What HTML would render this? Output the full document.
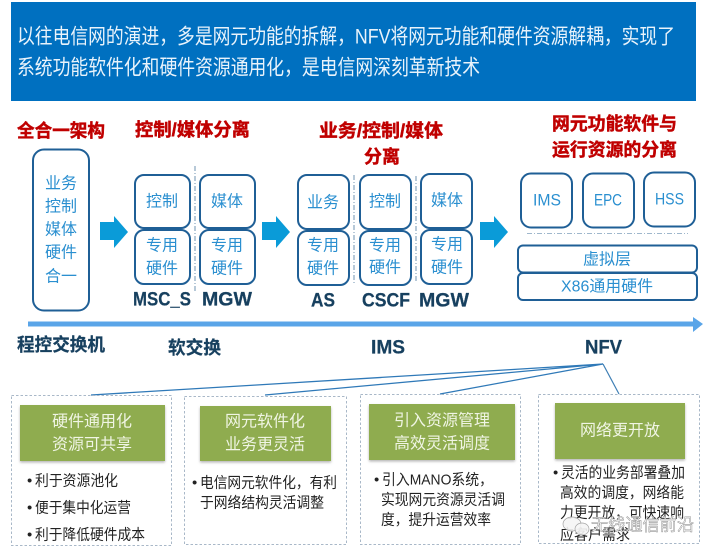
<!DOCTYPE html>
<html><head><meta charset="utf-8">
<style>
html,body{margin:0;padding:0;background:#fff;width:717px;height:555px;overflow:hidden}
svg{display:block;filter:blur(.35px)}
text{font-family:"Liberation Sans","Noto Sans CJK SC",sans-serif;dominant-baseline:central}
.b{fill:#fff;stroke:#1f5f96;stroke-width:2}
.t{fill:#2a8fd0;font-size:16px;text-anchor:middle}
.r{fill:#c00000;font-size:18px;font-weight:700;stroke:#c00000;stroke-width:.45}
.n{fill:#17405f;font-size:19px;font-weight:700;stroke:#17405f;stroke-width:.25}
.d{fill:none;stroke:#a9b8c8;stroke-width:1;stroke-dasharray:2.5 2}
.g{fill:#8fac4f;filter:url(#s)}
.w{fill:#f0f5e4;font-size:16px;text-anchor:middle}
.k{fill:#222;font-size:15px}
.a{fill:#0a9bd8}
.v{stroke:#9fb7cc;stroke-width:1.5;stroke-dasharray:5 2 1 2;fill:none}
.l{stroke:#2f79b8;stroke-width:1.3;fill:none}
</style></head><body>
<svg width="717" height="555" viewBox="0 0 717 555" xmlns="http://www.w3.org/2000/svg">
<defs><filter id="s" x="-5%" y="-5%" width="110%" height="115%"><feDropShadow dx="0" dy="1.5" stdDeviation="1.2" flood-color="#777" flood-opacity=".55"/></filter></defs>
<rect width="717" height="555" fill="#fff"/>
<rect x="11" y="2" width="685" height="99" fill="#0070c0"/>
<text x="17" y="37" fill="#e9f3fb" font-size="21" textLength="658" lengthAdjust="spacingAndGlyphs">以往电信网的演进，多是网元功能的拆解，NFV将网元功能和硬件资源解耦，实现了</text>
<text x="17" y="68" fill="#e9f3fb" font-size="21" textLength="463" lengthAdjust="spacingAndGlyphs">系统功能软件化和硬件资源通用化，是电信网深刻革新技术</text>

<text class="r" x="17" y="131" textLength="88" lengthAdjust="spacingAndGlyphs">全合一架构</text>
<text class="r" x="135" y="130" textLength="115" lengthAdjust="spacingAndGlyphs">控制/媒体分离</text>
<text class="r" x="319" y="131" textLength="124" lengthAdjust="spacingAndGlyphs">业务/控制/媒体</text>
<text class="r" x="364" y="157" textLength="36" lengthAdjust="spacingAndGlyphs">分离</text>
<text class="r" x="552" y="124" textLength="125" lengthAdjust="spacingAndGlyphs">网元功能软件与</text>
<text class="r" x="552" y="150" textLength="125" lengthAdjust="spacingAndGlyphs">运行资源的分离</text>

<rect class="b" x="33" y="149.500" width="56" height="161" rx="11"/>
<text class="t" x="61" y="184">业务</text><text class="t" x="61" y="207">控制</text><text class="t" x="61" y="230">媒体</text><text class="t" x="61" y="253">硬件</text><text class="t" x="61" y="277">合一</text>

<rect class="b" x="135" y="175" width="55" height="53" rx="9"/><text class="t" x="162" y="202">控制</text>
<rect class="b" x="135" y="230" width="55" height="54" rx="9"/><text class="t" x="162" y="246">专用</text><text class="t" x="162" y="269">硬件</text>
<rect class="b" x="200" y="175" width="55" height="53" rx="9"/><text class="t" x="227" y="202">媒体</text>
<rect class="b" x="200" y="230" width="55" height="54" rx="9"/><text class="t" x="227" y="246">专用</text><text class="t" x="227" y="269">硬件</text>
<line x1="195" y1="166" x2="195" y2="293" class="v"/>

<rect class="b" x="298" y="175" width="51" height="54" rx="9"/><text class="t" x="323" y="203">业务</text>
<rect class="b" x="298" y="231" width="51" height="54" rx="9"/><text class="t" x="323" y="246">专用</text><text class="t" x="323" y="269">硬件</text>
<line x1="354" y1="175" x2="354" y2="283" class="v"/>
<rect class="b" x="360" y="175" width="51" height="54" rx="9"/><text class="t" x="385" y="202">控制</text>
<rect class="b" x="360" y="231" width="51" height="54" rx="9"/><text class="t" x="385" y="246">专用</text><text class="t" x="385" y="268">硬件</text>
<line x1="416" y1="176" x2="416" y2="282" class="v"/>
<rect class="b" x="421" y="174" width="51" height="54" rx="9"/><text class="t" x="447" y="201">媒体</text>
<rect class="b" x="421" y="230" width="51" height="54" rx="9"/><text class="t" x="447" y="245">专用</text><text class="t" x="447" y="268">硬件</text>

<rect class="b" x="521" y="173.500" width="51" height="54" rx="10"/><text x="533" y="200" fill="#2a8fd0" font-size="17" textLength="28" lengthAdjust="spacingAndGlyphs">IMS</text>
<rect class="b" x="583" y="173.500" width="51" height="54" rx="10"/><text x="594" y="200" fill="#2a8fd0" font-size="17" textLength="28" lengthAdjust="spacingAndGlyphs">EPC</text>
<rect class="b" x="644" y="172.500" width="51" height="54" rx="10"/><text x="655" y="199" fill="#2a8fd0" font-size="17" textLength="29" lengthAdjust="spacingAndGlyphs">HSS</text>
<line x1="527" y1="233.500" x2="688" y2="233.500" class="v" style="stroke-width:1"/>
<rect class="b" x="518" y="245.500" width="179" height="27" rx="5"/><text class="t" x="607" y="260">虚拟层</text>
<rect class="b" x="518" y="273" width="179" height="27" rx="5"/><text x="561" y="287" fill="#2a8fd0" font-size="16" textLength="92" lengthAdjust="spacingAndGlyphs">X86通用硬件</text>

<polygon class="a" points="100,222 114,222 114,216 128,232 114,248 114,240 100,240"/>
<polygon class="a" points="262,222 276,222 276,216 290,232 276,248 276,240 262,240"/>
<polygon class="a" points="480,222 494,222 494,216 508,232 494,248 494,240 480,240"/>

<text class="n" x="133" y="300" textLength="58" lengthAdjust="spacingAndGlyphs">MSC_S</text>
<text class="n" x="202" y="300" textLength="50" lengthAdjust="spacingAndGlyphs">MGW</text>
<text class="n" x="311" y="301" textLength="24" lengthAdjust="spacingAndGlyphs">AS</text>
<text class="n" x="362" y="301" textLength="48" lengthAdjust="spacingAndGlyphs">CSCF</text>
<text class="n" x="419" y="301" textLength="50" lengthAdjust="spacingAndGlyphs">MGW</text>

<polygon fill="#5aa5e8" points="28,321.500 693,321.500 693,317 703,324 693,332 693,326.500 28,326.500"/>

<text class="n" x="17" y="345" textLength="88" lengthAdjust="spacingAndGlyphs" style="font-size:18px">程控交换机</text>
<text class="n" x="168" y="348" textLength="53" lengthAdjust="spacingAndGlyphs" style="font-size:18px">软交换</text>
<text class="n" x="371" y="348" textLength="34" lengthAdjust="spacingAndGlyphs">IMS</text>
<text class="n" x="585" y="348" textLength="37" lengthAdjust="spacingAndGlyphs">NFV</text>

<path class="l" d="M91,395 L603,364 M265,395 L603,364 M440,394 L603,364"/>
<path d="M603,364 L619,394" stroke="#3f7fb5" stroke-width="1.2" fill="none"/>

<rect class="d" x="11.500" y="395.500" width="160" height="150"/>
<rect class="d" x="184.500" y="396.500" width="162" height="148"/>
<rect class="d" x="360.500" y="394.500" width="160" height="150"/>
<rect class="d" x="538.500" y="394.500" width="161" height="149"/>

<rect class="g" x="20" y="405" width="145" height="56"/>
<rect class="g" x="200" y="406" width="131" height="55"/>
<rect class="g" x="369" y="404" width="146" height="56"/>
<rect class="g" x="555" y="403" width="130" height="56"/>

<text class="w" x="92" y="422">硬件通用化</text><text class="w" x="92" y="445">资源可共享</text>
<text class="w" x="265" y="422">网元软件化</text><text class="w" x="265" y="445">业务更灵活</text>
<text class="w" x="442" y="421">引入资源管理</text><text class="w" x="442" y="444">高效灵活调度</text>
<text class="w" x="620" y="431">网络更开放</text>

<text class="k" x="27" y="481">•</text><text class="k" x="35" y="481" textLength="83" lengthAdjust="spacingAndGlyphs">利于资源池化</text>
<text class="k" x="27" y="508">•</text><text class="k" x="35" y="508" textLength="96" lengthAdjust="spacingAndGlyphs">便于集中化运营</text>
<text class="k" x="27" y="535">•</text><text class="k" x="35" y="535" textLength="110" lengthAdjust="spacingAndGlyphs">利于降低硬件成本</text>

<text class="k" x="192" y="483">•</text><text class="k" x="200" y="483" textLength="137" lengthAdjust="spacingAndGlyphs">电信网元软件化，有利</text>
<text class="k" x="200" y="503" textLength="124" lengthAdjust="spacingAndGlyphs">于网络结构灵活调整</text>

<text class="k" x="374" y="480">•</text><text class="k" x="382" y="480" textLength="111" lengthAdjust="spacingAndGlyphs">引入MANO系统，</text>
<text class="k" x="381" y="500" textLength="124" lengthAdjust="spacingAndGlyphs">实现网元资源灵活调</text>
<text class="k" x="381" y="520" textLength="110" lengthAdjust="spacingAndGlyphs">度，提升运营效率</text>

<text class="k" x="553" y="473">•</text><text class="k" x="561" y="473" textLength="124" lengthAdjust="spacingAndGlyphs">灵活的业务部署叠加</text>
<text class="k" x="560" y="493" textLength="124" lengthAdjust="spacingAndGlyphs">高效的调度，网络能</text>
<text class="k" x="560" y="513" textLength="124" lengthAdjust="spacingAndGlyphs">力更开放，可快速响</text>
<text class="k" x="560" y="535" textLength="70" lengthAdjust="spacingAndGlyphs">应客户需求</text>

<ellipse cx="572" cy="524" rx="9" ry="7" fill="#f6f6f6" stroke="#999" stroke-width=".7" opacity=".9"/>
<ellipse cx="582" cy="529" rx="7" ry="6" fill="#f6f6f6" stroke="#999" stroke-width=".7" opacity=".9"/>
<text x="591" y="525" font-size="17" fill="#f7f7f7" stroke="#7f7f7f" stroke-width=".4" textLength="103" lengthAdjust="spacingAndGlyphs">无线通信前沿</text>
</svg>
</body></html>
